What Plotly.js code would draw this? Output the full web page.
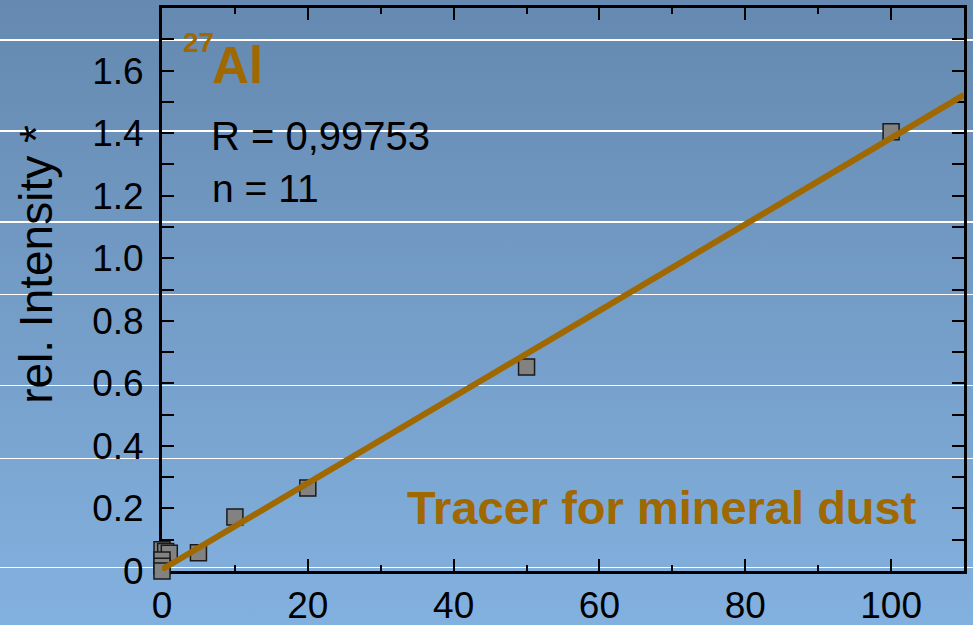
<!DOCTYPE html>
<html>
<head>
<meta charset="utf-8">
<script src="https://cdn.plot.ly/plotly-3.0.1.min.js"></script>
<style>
  html, body { margin: 0; padding: 0; }
  body {
    width: 973px; height: 625px; overflow: hidden; position: relative;
    background: linear-gradient(to bottom, #6589b0 0%, #83b1df 100%);
  }
  .rule { position: absolute; left: 0; width: 973px; height: 1.5px; background: #ffffff; }
  #chart { position: absolute; left: 0; top: 0; width: 973px; height: 625px; }
</style>
</head>
<body>
<div class="rule" style="top:39px"></div>
<div class="rule" style="top:130px"></div>
<div class="rule" style="top:221px"></div>
<div class="rule" style="top:293.5px"></div>
<div class="rule" style="top:384.5px"></div>
<div class="rule" style="top:457.5px"></div>
<div class="rule" style="top:566.5px"></div>
<div id="chart"></div>
<script>
// Calibration standards: concentration vs. relative intensity (27Al)
const concentration = [0, 0.5, 1, 0, 0, 0, 5, 10, 20, 50, 100];
const relIntensity  = [0.068, 0.062, 0.057, 0.035, 0.015, 0.0, 0.058, 0.173, 0.265, 0.652, 1.404];

// Regression line end points
const fitX = [0, 110];
const fitY = [0.005, 1.522];

// Axis ticks
const xTickVals = [0, 20, 40, 60, 80, 100];
const yTickVals = [0, 0.2, 0.4, 0.6, 0.8, 1.0, 1.2, 1.4, 1.6];
const yTickText = ["0", "0.2", "0.4", "0.6", "0.8", "1.0", "1.2", "1.4", "1.6"];

const brown = '#a06800';
const font = 'Liberation Sans, Arial, Helvetica, sans-serif';

const points = {
  x: concentration, y: relIntensity,
  type: 'scatter', mode: 'markers', cliponaxis: false,
  marker: { symbol: 'square', size: 16, color: '#828282', line: { color: '#1a1a1a', width: 1.5 } },
  hoverinfo: 'x+y'
};
const fit = {
  x: fitX, y: fitY,
  type: 'scatter', mode: 'lines',
  line: { color: brown, width: 6 },
  hoverinfo: 'skip'
};

const axisCommon = {
  showgrid: false, zeroline: false,
  showline: true, linecolor: '#000', linewidth: 3,
  mirror: 'allticks', ticks: 'inside', ticklen: 12, tickwidth: 2, tickcolor: '#000',
  tickfont: { family: font, size: 37, color: '#000' },
  layer: 'below traces'
};

const layout = {
  width: 973, height: 625,
  margin: { l: 162, r: 9, t: 8, b: 54 },
  paper_bgcolor: 'rgba(0,0,0,0)', plot_bgcolor: 'rgba(0,0,0,0)',
  showlegend: false,
  font: { family: font, color: '#000' },
  xaxis: Object.assign({}, axisCommon, {
    range: [0, 110], tickmode: 'array', tickvals: xTickVals,
    ticklabelstandoff: 0,
    minor: { dtick: 10, tick0: 0, ticks: 'inside', ticklen: 6, tickwidth: 2, tickcolor: '#000' }
  }),
  yaxis: Object.assign({}, axisCommon, {
    range: [0, 1.8], tickmode: 'array', tickvals: yTickVals, ticktext: yTickText,
    ticklabelstandoff: 8,
    minor: { dtick: 0.1, tick0: 0, ticks: 'inside', ticklen: 12, tickwidth: 2, tickcolor: '#000' }
  }),
  annotations: [
    { text: 'rel. Intensity *', textangle: -90, xref: 'paper', yref: 'paper',
      x: -0.157, y: 0.544, xanchor: 'center', yanchor: 'middle', showarrow: false,
      font: { family: font, size: 46, color: '#000' } },
    { text: '<b>27</b>', xref: 'paper', yref: 'paper', x: 0.0237, y: 0.938,
      xanchor: 'left', yanchor: 'middle', showarrow: false,
      font: { family: font, size: 28, color: brown } },
    { text: '<b>Al</b>', xref: 'paper', yref: 'paper', x: 0.0599, y: 0.898,
      xanchor: 'left', yanchor: 'middle', showarrow: false,
      font: { family: font, size: 51, color: brown } },
    { text: 'R = 0,99753', xref: 'paper', yref: 'paper', x: 0.058, y: 0.7725,
      xanchor: 'left', yanchor: 'middle', showarrow: false,
      font: { family: font, size: 40, color: '#000' } },
    { text: 'n = 11', xref: 'paper', yref: 'paper', x: 0.0594, y: 0.6787,
      xanchor: 'left', yanchor: 'middle', showarrow: false,
      font: { family: font, size: 39, color: '#000' } },
    { text: '<b>Tracer for mineral dust</b>', xref: 'paper', yref: 'paper', x: 0.624, y: 0.1125,
      xanchor: 'center', yanchor: 'middle', showarrow: false,
      font: { family: font, size: 47, color: brown } }
  ]
};

Plotly.newPlot('chart', [points, fit], layout, { displayModeBar: false, staticPlot: true });
</script>
</body>
</html>
